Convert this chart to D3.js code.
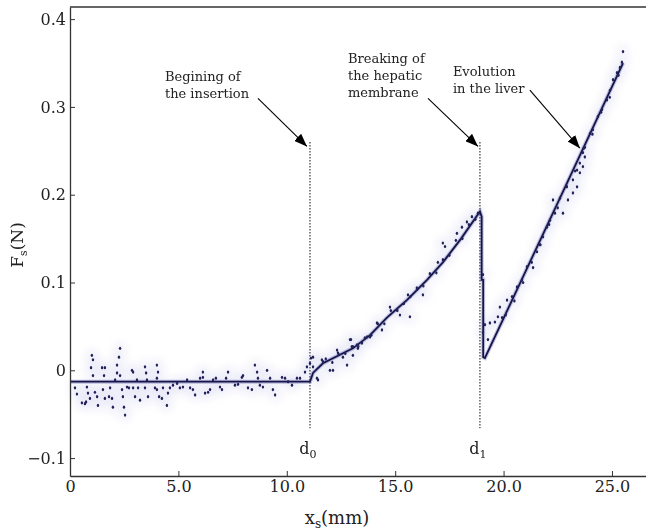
<!DOCTYPE html>
<html>
<head>
<meta charset="utf-8">
<script src="https://cdn.jsdelivr.net/npm/d3@7/dist/d3.min.js"></script>
<style>
  body { margin: 0; background: #fff; }
  text { font-family: "DejaVu Serif", serif; fill: #222; }
</style>
</head>
<body>
<div id="chart"></div>
<script>
// Force vs insertion depth (liver needle insertion)

// --- data ---
const xTicks = [0, 5, 10, 15, 20, 25];
const yTicks = [-0.1, 0, 0.1, 0.2, 0.3, 0.4];

// fitted curve
const fitX = [0, 11.07, 11.21, 11.67, 13.05, 13.84, 14.62, 15.54, 16.47, 17.20, 18.04, 18.91, 18.99, 18.99, 19.06, 19.06, 19.14, 22.60, 25.51];
const fitY = [-0.013, -0.013, -0.003, 0.008, 0.025, 0.040, 0.060, 0.080, 0.103, 0.123, 0.150, 0.181, 0.175, 0.103, 0.103, 0.015, 0.014, 0.196, 0.350];

// measured points
const ptsX = [
  0.23, 0.32, 0.55, 0.69, 0.74, 0.78, 0.83, 0.92, 1.01, 1.06, 0.97, 1.06, 1.15, 1.25, 1.29, 1.48, 1.61, 1.57, 1.52, 1.61,
  1.85, 1.80, 1.94, 1.98, 2.08, 2.17, 2.26, 2.31, 2.17, 2.31, 2.40, 2.44, 2.49, 2.54, 2.63, 2.72, 2.86, 2.91, 2.91, 3.00,
  3.09, 3.14, 3.23, 3.46, 3.51, 3.46, 3.60, 3.55, 4.01, 4.06, 4.01, 3.92, 4.01, 4.11, 4.24, 4.29, 4.52, 4.47, 4.61, 4.75,
  4.94, 5.07, 5.21, 5.40, 5.54, 5.67, 5.77, 6.00, 6.13, 6.13, 6.23, 6.37, 6.46, 6.60, 6.73, 6.92, 7.01, 7.20, 7.29, 7.61,
  7.75, 7.93, 7.98, 8.21, 8.39, 8.53, 8.63, 8.67, 8.76, 8.90, 9.09, 9.23, 9.36, 9.46, 9.78, 9.92, 10.06, 10.24, 10.47, 10.61,
  10.84, 10.93, 11.07, 11.12,
  11.21, 11.21, 11.39, 11.44, 11.62, 11.67, 11.99, 12.13, 12.32, 12.36, 12.78, 12.92, 13.05, 13.24, 13.47, 13.70, 12.59, 12.96,
  13.05, 13.28, 13.84, 14.16, 14.39, 14.76, 15.08, 15.22, 15.68, 15.59, 16.01, 16.28, 16.97, 17.20, 17.30, 17.85, 18.08, 18.31,
  18.54, 18.82,
  11.80, 12.10, 12.40, 12.70, 13.00, 13.30, 13.60, 13.90, 14.20, 14.50, 14.80, 15.10, 15.40, 15.70, 16.00, 16.30, 16.60, 16.90,
  17.20, 17.50, 17.80, 18.10, 18.40, 18.70,
  19.05, 19.14, 19.05, 19.28, 19.37, 19.60, 19.74, 19.83, 19.93, 20.16, 20.39, 20.62, 20.85, 21.08, 21.36, 21.54, 21.68, 21.82,
  22.00, 22.14, 22.37, 22.28, 22.60, 22.92, 23.20, 23.39, 23.52, 23.66, 23.75, 23.99, 24.12, 24.35, 24.54, 24.77, 24.91, 25.05,
  25.23, 25.37, 25.46, 25.51, 23.75, 23.66, 23.52, 23.39, 23.20, 22.97, 22.74,
  20.10, 20.50, 20.90, 21.30, 21.70, 22.10, 22.50, 22.90, 23.30, 23.70, 24.10, 24.50, 24.90, 25.30
];
const ptsY = [
  -0.020, -0.027, -0.037, -0.038, -0.036, -0.019, -0.026, -0.032, 0.017, 0.012, 0.003, -0.006, -0.025, -0.030, -0.040, 0.003, 0.003, -0.006, -0.022, -0.032,
  -0.020, -0.030, -0.032, -0.042, -0.011, 0.006, 0.015, 0.025, -0.003, -0.006, -0.022, -0.030, -0.042, -0.051, -0.019, -0.020, 0.000, -0.002, -0.020, -0.030,
  -0.011, -0.020, -0.034, 0.004, -0.003, -0.020, -0.030, -0.011, 0.006, -0.002, -0.009, -0.020, -0.022, -0.030, -0.032, -0.020, -0.026, -0.040, -0.020, -0.017,
  -0.015, -0.020, -0.019, -0.011, -0.020, -0.022, -0.028, -0.009, -0.002, -0.008, -0.026, -0.025, -0.022, -0.011, -0.009, -0.019, -0.022, -0.009, -0.002, -0.017,
  -0.016, -0.008, -0.006, -0.020, -0.022, 0.006, -0.002, -0.009, -0.017, -0.019, 0.000, -0.009, -0.022, -0.028, -0.008, -0.009, -0.013, -0.017, -0.009, -0.009,
  -0.002, 0.004, 0.008, 0.014,
  0.015, 0.004, -0.009, -0.011, 0.012, 0.010, 0.000, 0.000, 0.023, 0.020, 0.006, 0.035, 0.027, 0.029, 0.031, 0.038, 0.015, 0.035,
  0.017, 0.025, 0.038, 0.054, 0.046, 0.072, 0.069, 0.063, 0.061, 0.086, 0.092, 0.086, 0.123, 0.145, 0.141, 0.156, 0.163, 0.169,
  0.175, 0.179,
  0.013, 0.009, 0.018, 0.019, 0.027, 0.027, 0.037, 0.040, 0.053, 0.053, 0.068, 0.068, 0.076, 0.084, 0.094, 0.096, 0.110, 0.111,
  0.126, 0.131, 0.148, 0.150, 0.166, 0.172,
  0.109, 0.052, 0.043, 0.035, 0.054, 0.055, 0.061, 0.072, 0.060, 0.080, 0.084, 0.095, 0.103, 0.118, 0.117, 0.135, 0.143, 0.152,
  0.163, 0.171, 0.179, 0.194, 0.196, 0.209, 0.217, 0.228, 0.236, 0.248, 0.254, 0.270, 0.274, 0.289, 0.297, 0.308, 0.319, 0.331,
  0.339, 0.345, 0.351, 0.363, 0.243, 0.232, 0.225, 0.209, 0.202, 0.194, 0.179,
  0.063, 0.079, 0.100, 0.123, 0.143, 0.166, 0.185, 0.210, 0.227, 0.253, 0.269, 0.294, 0.311, 0.336
];

// event markers
const markX = [11.07, 18.91];
const markNames = ["0", "1"];
const markTop = 0.26, markBottom = -0.066;

// annotations: arrow tip in data units
const noteLines = [["Begining of", "the insertion"], ["Breaking of", "the hepatic", "membrane"], ["Evolution", "in the liver"]];
const noteTipX = [10.93, 18.82, 23.52];
const noteTipY = [0.255, 0.255, 0.253];

// --- size & margins ---
const W = 646, H = 531;
const margin = { top: 7, right: 0, bottom: 55, left: 70 };
const width = W - margin.left - margin.right,
      height = H - margin.top - margin.bottom;

const svgRoot = d3.select("#chart").append("svg")
  .attr("width", W).attr("height", H);

const defs = svgRoot.append("defs");
defs.append("marker")
  .attr("id", "arrow")
  .attr("viewBox", "0 0 13 10")
  .attr("refX", 13).attr("refY", 5)
  .attr("markerWidth", 13).attr("markerHeight", 10)
  .attr("markerUnits", "userSpaceOnUse")
  .attr("orient", "auto")
  .append("path").attr("d", "M0,0 L13,5 L0,10 z").attr("fill", "#000");
defs.append("filter").attr("id", "glow")
  .append("feGaussianBlur").attr("stdDeviation", 5);

const svg = svgRoot.append("g")
  .attr("transform", `translate(${margin.left},${margin.top})`);

// --- scales ---
const x = d3.scaleLinear().domain([0, 26.57]).range([0, width]);
const y = d3.scaleLinear().domain([-0.1204, 0.4138]).range([height, 0]);

const pts = ptsX.map((v, i) => ({ x: v, y: ptsY[i] }));
const fit = fitX.map((v, i) => ({ x: v, y: fitY[i] }));

// faint halo around the data (scanned look)
svg.append("g").attr("filter", "url(#glow)")
  .selectAll("circle").data(pts).enter().append("circle")
    .attr("cx", d => x(d.x)).attr("cy", d => y(d.y))
    .attr("r", 6).attr("fill", "#e6e6f6").attr("opacity", 0.6);

// --- dotted event lines ---
svg.selectAll(".mark").data(markX).enter().append("line")
  .attr("x1", d => x(d)).attr("x2", d => x(d))
  .attr("y1", y(markTop)).attr("y2", y(markBottom))
  .attr("stroke", "#111").attr("stroke-width", 1)
  .attr("stroke-dasharray", "1.5,1.5");

svg.selectAll(".mlabel").data(markX).enter().append("text")
  .attr("x", d => x(d) - 2)
  .attr("y", y(markBottom) + 26)
  .attr("text-anchor", "middle")
  .style("font-size", "16px")
  .each(function(d, i) {
    const t = d3.select(this);
    t.append("tspan").text("d");
    t.append("tspan").attr("dy", 4).style("font-size", "11px").text(markNames[i]);
  });

// --- fitted curve ---
const line = d3.line().x(d => x(d.x)).y(d => y(d.y));
svg.append("path").datum(fit)
  .attr("fill", "none").attr("stroke", "#5a5aa8").attr("stroke-opacity", 0.35)
  .attr("stroke-width", 4).attr("d", line);
svg.append("path").datum(fit)
  .attr("fill", "none").attr("stroke", "#15154a")
  .attr("stroke-width", 1.8).attr("d", line);

// --- points ---
svg.selectAll(".pt").data(pts).enter().append("ellipse")
  .attr("cx", d => x(d.x)).attr("cy", d => y(d.y))
  .attr("rx", 1.2).attr("ry", 1.6)
  .attr("fill", "#22225a");

// --- axes ---
const xAxis = svg.append("g")
  .attr("transform", `translate(0,${height})`)
  .call(d3.axisBottom(x).tickValues(xTicks)
    .tickSizeInner(-5).tickSizeOuter(0).tickPadding(5)
    .tickFormat(d => d === 0 ? "0" : d.toFixed(1)));
const yAxis = svg.append("g")
  .call(d3.axisLeft(y).tickValues(yTicks)
    .tickSizeInner(-5).tickSizeOuter(0).tickPadding(4)
    .tickFormat(d => d === 0 ? "0" : d3.format(".1f")(d)));
[xAxis, yAxis].forEach(a => {
  a.select(".domain").attr("stroke", "#333").attr("stroke-width", 1.3);
  a.selectAll(".tick line").attr("stroke", "#333");
  a.selectAll(".tick text").style("font-family", "DejaVu Serif").style("font-size", "16px").attr("fill", "#222");
});
// top spine
svg.append("line").attr("x1", 0).attr("x2", width).attr("y1", 0).attr("y2", 0)
  .attr("stroke", "#333").attr("stroke-width", 1.3);

// --- annotations ---
const notePos = [
  { dx: -49, dy: -48, tx: -142, ty: -65 },
  { dx: -50, dy: -48, tx: -130, ty: -83 },
  { dx: -50, dy: -58, tx: -127, ty: -72 }
];
noteLines.forEach((lines, i) => {
  const tx = x(noteTipX[i]), ty = y(noteTipY[i]);
  const p = notePos[i];
  svg.append("line")
    .attr("x1", tx + p.dx).attr("y1", ty + p.dy)
    .attr("x2", tx).attr("y2", ty)
    .attr("stroke", "#000").attr("stroke-width", 1.1)
    .attr("marker-end", "url(#arrow)");
  const t = svg.append("text")
    .attr("x", tx + p.tx).attr("y", ty + p.ty)
    .style("font-size", "13px");
  lines.forEach((s, j) => {
    t.append("tspan").attr("x", tx + p.tx).attr("dy", j === 0 ? 0 : 16.7).text(s);
  });
});

// --- axis titles ---
const xt = svgRoot.append("text")
  .attr("x", 337).attr("y", 524).attr("text-anchor", "middle")
  .style("font-size", "18px");
xt.append("tspan").text("x");
xt.append("tspan").attr("dy", 4).style("font-size", "12px").text("s");
xt.append("tspan").attr("dy", -4).text("(mm)");

const yt = svgRoot.append("text")
  .attr("transform", "translate(23,245) rotate(-90)")
  .attr("text-anchor", "middle")
  .style("font-size", "17px");
yt.append("tspan").text("F");
yt.append("tspan").attr("dy", 4).style("font-size", "11px").text("s");
yt.append("tspan").attr("dy", -4).text("(N)");
</script>
</body>
</html>
